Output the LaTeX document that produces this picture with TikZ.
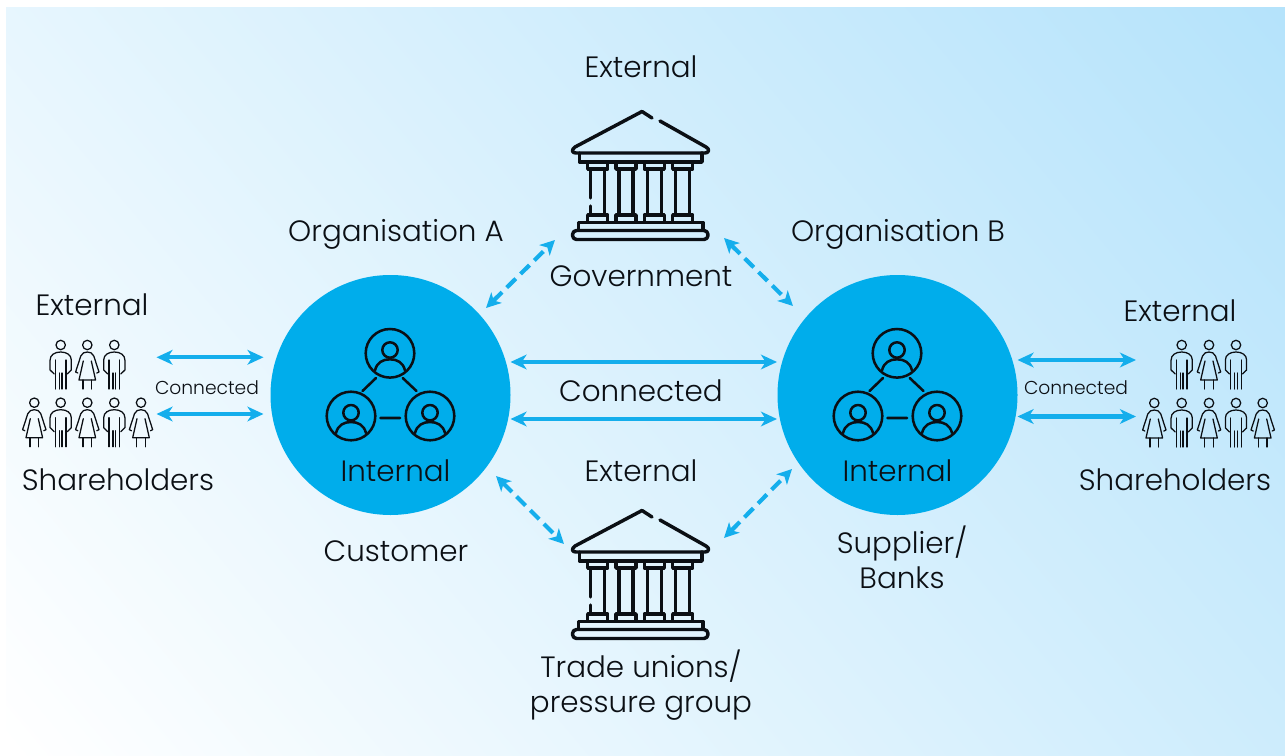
\documentclass[tikz,border=0pt]{standalone}
\usepackage{fontspec}
\setmainfont{Poppins}[UprightFont=* Light]
\usetikzlibrary{arrows.meta}
\definecolor{ink}{HTML}{0B0F14}
\definecolor{cyanbrand}{HTML}{00ADEB}
\definecolor{arrowblue}{HTML}{14AEEC}
\definecolor{bgend}{HTML}{B5E3FB}
\pgfdeclareverticalshading{bgramp}{100bp}{color(0bp)=(white); color(15bp)=(white); color(85bp)=(bgend); color(100bp)=(bgend)}
\tikzset{
 x=0.75pt,y=-0.75pt,
 iconline/.style={draw=ink,line width=2.6pt,line cap=round,line join=round},
 thinline/.style={draw=ink,line width=0.95pt,line cap=round,line join=round},
 teamline/.style={draw=ink,line width=1.9pt,line cap=round,line join=round},
 lab/.style={font=\fontsize{22.05pt}{26pt}\selectfont,text=ink,anchor=base,inner sep=0pt},
 smalllab/.style={font=\fontsize{14pt}{16pt}\selectfont,text=ink,anchor=base,inner sep=0pt},
 biglink/.style={draw=arrowblue,line width=3.1pt,{Stealth[length=12pt,width=11pt,inset=3.5pt]}-{Stealth[length=12pt,width=11pt,inset=3.5pt]}},
 dashlink/.style={draw=arrowblue,line width=3.1pt,dash pattern=on 9.5pt off 5pt,{Stealth[length=11pt,width=11pt,inset=3pt]}-{Stealth[length=11pt,width=11pt,inset=3pt]}},
 orgdisc/.style={circle,fill=cyanbrand,minimum size=180pt,inner sep=0pt,draw=none},
 bankicon/.pic={
  \path[iconline] (92,18)--(82,11.5)--(15,47) .. controls (11,50) and (12,53) .. (16,53) -- (145,53) .. controls (149,53) and (150,49) .. (146,47) -- (100,21);
  \path[iconline] (19.5,53)--(19.5,62)--(142,62)--(142,53);
  \foreach \c in {37.7,66,94.3,122.7}{
   \path[iconline] (\c-10,62)--(\c-10,69)--(\c+10,69)--(\c+10,62);
   \path[iconline] (\c-10,122)--(\c-10,115)--(\c+10,115)--(\c+10,122);
   \path[iconline] (\c+7,69)--(\c+7,115);
  }
  \path[iconline] (30.7,69)--(30.7,98) (30.7,106)--(30.7,115);
  \foreach \c in {66,94.3,122.7}{\path[iconline] (\c-7,69)--(\c-7,115);}
  \path[iconline] (18.5,130)--(18.5,122.5)--(143,122.5)--(143,130);
  \path[iconline,rounded corners=3pt] (12.5,130.5)--(148,130.5)--(148,139.5)--(12.5,139.5)--cycle;
 },
 manicon/.pic={
  \path[thinline] (0,0) circle[radius=4.7];
  \path[thinline] (-6.5,29)--(-10.6,25)--(-10.6,15) .. controls (-10.6,10) and (-6,7) .. (0,7) .. controls (6,7) and (10.6,10) .. (10.6,15) -- (10.6,25)--(6.5,29);
  \path[thinline] (-5.2,15)--(-5.2,44) (-1.4,28)--(-1.4,44) (1.4,28)--(1.4,44) (5.2,15)--(5.2,44);
 },
 womanicon/.pic={
  \path[thinline] (0,0) circle[radius=4.7];
  \path[thinline] (-9.5,28)--(-11.7,27)--(-6.5,11) .. controls (-5,8) and (-3,7) .. (0,7) .. controls (3,7) and (5,8) .. (6.5,11) -- (11.7,27)--(9.5,28);
  \path[thinline] (-4,16)--(-8.3,35)--(8.3,35)--(4,16);
  \path[thinline] (-4.3,35)--(-4.3,44) (4.3,35)--(4.3,44);
 },
 teamhead/.pic={
  \path[teamline] (0,0) circle[radius=24.3];
  \path[teamline] (0,-3.3) circle[radius=7.7];
  \path[teamline] (-15,17) .. controls (-13,9) and (-7,6) .. (0,6) .. controls (7,6) and (13,9) .. (15,17);
 },
 teamicon/.pic={
  \pic at (-0.5,-41.7) {teamhead};
  \pic at (-39.5,21) {teamhead};
  \pic at (39.5,21) {teamhead};
  \path[teamline] (-14.5,-17)--(-28,-4) (12.2,-17)--(26,-4) (-10,23)--(9.5,23);
 }
}
\begin{document}
\begin{tikzpicture}
\useasboundingbox (0,0) rectangle (1285,756);
\fill[white] (0,0) rectangle (1285,756);
\shade[shading=bgramp,shading angle=-50] (6,8) rectangle (1285,756);

% organisations
\node[orgdisc] (orgA) at (390.5,395) {};
\node[orgdisc] (orgB) at (897.5,395) {};
\pic at (390.5,395) {teamicon};
\pic at (897.5,395) {teamicon};

% banks
\pic at (560,100) {bankicon};
\pic at (560,499) {bankicon};

% people left
\foreach \x/\k in {60.7/man,87.3/woman,114.3/man}{\pic at (\x,345) {\k icon};}
\foreach \x/\k in {34.3/woman,60.7/man,87.3/woman,114.3/man,141/woman}{\pic at (\x,402.7) {\k icon};}
% people right
\foreach \x/\k in {1181.7/man,1209/woman,1236/man}{\pic at (\x,345) {\k icon};}
\foreach \x/\k in {1154.3/woman,1181.7/man,1209/woman,1236/man,1262.7/woman}{\pic at (\x,403) {\k icon};}

% connector ends
\coordinate (la1) at (156.5,357.3); \coordinate (la2) at (263.5,357.3);
\coordinate (lb1) at (156.5,414); \coordinate (lb2) at (263.5,414);
\coordinate (ca1) at (510.5,362); \coordinate (ca2) at (777,362);
\coordinate (cb1) at (510.5,419); \coordinate (cb2) at (777,419);
\coordinate (ra1) at (1017.5,360); \coordinate (ra2) at (1136,360);
\coordinate (rb1) at (1017.5,416.5); \coordinate (rb2) at (1136,416.5);
\coordinate (d1a) at (486,308); \coordinate (d1b) at (555,240);
\coordinate (d2a) at (724,238); \coordinate (d2b) at (793,306);
\coordinate (d3a) at (496,476); \coordinate (d3b) at (564,544);
\coordinate (d4a) at (724,538); \coordinate (d4b) at (792,469);
\draw[biglink] (la1)--(la2);
\draw[biglink] (lb1)--(lb2);
\draw[biglink] (ca1)--(ca2);
\draw[biglink] (cb1)--(cb2);
\draw[biglink] (ra1)--(ra2);
\draw[biglink] (rb1)--(rb2);
\draw[dashlink] (d1a)--(d1b);
\draw[dashlink] (d2a)--(d2b);
\draw[dashlink] (d3a)--(d3b);
\draw[dashlink] (d4a)--(d4b);

% labels
\node[lab] (t1) at (641,78) {External};
\node[lab] (t2) at (396,241) {Organisation A};
\node[lab] (t3) at (641,286) {Government};
\node[lab] (t4) at (898,241) {Organisation B};
\node[lab] (t5) at (92,315) {External};
\node[smalllab] (t6) at (207,394.5) {Connected};
\node[lab] (t7) at (118,490) {Shareholders};
\node[lab] (t8) at (641,401) {Connected};
\node[lab] (t9) at (395.5,481) {Internal};
\node[lab] (t10) at (641,481) {External};
\node[lab] (t11) at (396,561) {Customer};
\node[lab] (t12) at (902,553) {Supplier/};
\node[lab] (t13) at (902,588) {Banks};
\node[lab] (t14) at (641,677) {Trade unions/};
\node[lab] (t15) at (641,712) {pressure group};
\node[lab] (t16) at (897.5,481) {Internal};
\node[lab] (t17) at (1180,321) {External};
\node[smalllab] (t18) at (1076,394.5) {Connected};
\node[lab] (t19) at (1175,490) {Shareholders};
\end{tikzpicture}
\end{document}
